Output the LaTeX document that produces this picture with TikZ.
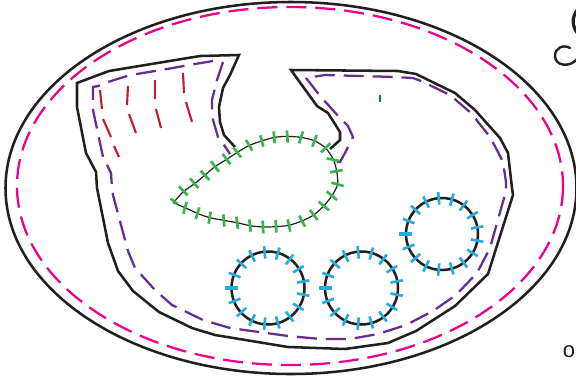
\documentclass[tikz,border=0pt]{standalone}
\usepackage{fontspec}
\setmainfont{Liberation Sans}
\definecolor{magentaP}{HTML}{EC008C}
\definecolor{purpleP}{HTML}{662D91}
\definecolor{redP}{HTML}{BE1E2D}
\definecolor{greenP}{HTML}{39B54A}
\definecolor{cyanP}{HTML}{27AAE1}
\definecolor{blueP}{HTML}{0072BC}
\definecolor{inkP}{HTML}{231F20}
\tikzset{x=0.75pt,y=-0.75pt,
 outline/.style={draw=inkP,line width=1.9pt,line join=miter},
 thinline/.style={draw=inkP,line width=0.9pt},
 pinkdash/.style={draw=magentaP,line width=1.7pt,dash pattern=on 15pt off 6.75pt},
 purpledash/.style={draw=purpleP,line width=1.7pt,dash pattern=on 15pt off 6.75pt},
 redtick/.style={draw=redP,line width=1.6pt},
 greentick/.style={draw=greenP,line width=2pt},
 cyantick/.style={draw=cyanP,line width=2pt},
 label/.style={inner sep=0pt,text=inkP,font=\fontsize{16.5}{16.5}\selectfont}}
\newcommand{\stitchring}[3]{%
 \draw[outline] (#1,#2) circle (#3);
 \foreach \k in {1,...,16}{\pgfmathsetmacro{\aa}{180+\k*21.18}
  \draw[cyantick] (#1,#2) ++(\aa:29.5) -- ++(\aa:12.5);}
 \draw[cyantick,line width=3.7pt] (#1-43,#2) -- (#1-30,#2);}
\begin{document}
\begin{tikzpicture}
\useasboundingbox (0,0) rectangle (576,376);
\fill[white] (0,0) rectangle (576,376);
\draw[outline] (291,188) ellipse (285.5 and 186);
\draw[pinkdash] (290,186) ellipse (273 and 179);
\draw[outline] (235,147) -- (224,135) -- (220,122) -- (219,107) -- (223,88) -- (230,75) -- (239,55) -- (200,56) -- (109,71) -- (77,83) -- (77,107) -- (86,153) -- (96,172) -- (97,188) -- (108,243) -- (118,271) -- (133,291) -- (159,312) -- (192,328) -- (215,335) -- (288,347) -- (345,349) -- (388,343) -- (416,331) -- (455,306) -- (488,274) -- (513,195) -- (512,188) -- (508,153) -- (500,138) -- (475,110) -- (455,93) -- (416,74) -- (398,71) -- (291,70) -- (317,106) -- (328,113) -- (340,132) -- (340,140) -- (330,149);
\draw[purpledash] (223,62) -- (217,80) -- (212,100) -- (212,107) -- (213,120) -- (218,137) -- (224,145) -- (230,154);
\draw[purpledash] (213,61) -- (195,64) -- (167,69) -- (137,74) -- (127,76) -- (108,82) -- (98,86) -- (93,87) -- (93,100) -- (93,110) -- (103,157) -- (108,167) -- (111,173) -- (112,188) -- (113,195) -- (128,251) -- (135,268) -- (155,290) -- (172,305) -- (203,320) -- (230,328) -- (288,336) -- (321,339) -- (350,339) -- (378,334) -- (406,325) -- (433,311) -- (456,295) -- (477,273) -- (490,248) -- (506,191) -- (506,182) -- (503,162) -- (498,152) -- (490,137) -- (471,113) -- (450,95) -- (421,81) -- (413,78) -- (395,77) -- (325,75) -- (306,78) -- (321,97) -- (340,118) -- (348,126) -- (353,137) -- (350,143) -- (345,153) -- (340,162) -- (336,162);
\draw[redtick] (100,90) -- (102,109);
\draw[redtick] (103,119) -- (111,137);
\draw[redtick] (114,146) -- (119,157);
\draw[redtick] (128,86) -- (127,105);
\draw[redtick] (129,114) -- (136,133);
\draw[redtick] (155,80) -- (155,99);
\draw[redtick] (156,109) -- (161,128);
\draw[redtick] (183,73) -- (184,93);
\draw[redtick] (186,102) -- (192,122);
\draw[blueP,line width=1.5pt] (380,95) -- (380,102);
\begin{scope}[shift={(160,120)},x=0.25pt,y=-0.25pt]
\draw[thinline,line join=round] plot[smooth,tension=0.4] coordinates {(40,248) (70,215) (105,190) (135,165) (165,140) (200,118) (232,97) (268,76) (305,63) (343,52) (382,49) (423,52) (463,62) (497,84) (520,118) (530,153) (533,193) (516,227) (491,258) (461,285) (426,303) (387,316) (348,320) (309,321) (270,317) (231,308) (191,301) (149,293) (112,280) (75,263) (40,248)};
\foreach \ax/\ay/\bx/\by in {32/236/53/252,57/199/83/226,90/175/115/204,122/152/148/180,153/124/177/155,188/102/211/133,220/82/243/112,258/60/277/92,301/46/310/80,341/34/344/70,381/31/383/68,429/34/417/70,470/45/457/80,511/70/483/97,500/115/538/123,510/157/548/150,514/188/551/198,500/214/531/240,476/245/507/271,450/270/473/300,418/287/435/320,383/298/391/335,347/300/349/338,308/302/310/340,268/298/272/335,229/290/234/327,190/283/193/320,152/275/146/311,118/262/107/297,80/246/70/281}{
 \draw[greentick] (\ax,\ay) -- (\bx,\by);}
\end{scope}
\stitchring{268}{288}{36.5}
\stitchring{361.5}{288}{36.5}
\stitchring{442}{234}{36}
\node[label,anchor=base west] (oletter) at (562.5,357) {o};
\draw[inkP,line width=1.8pt,line cap=round] (570,48) .. controls (563,44) and (555,48) .. (555,56) .. controls (555,66) and (570,68) .. (577,59);
\draw[inkP,line width=2.4pt] (578,9) .. controls (571,18) and (572,26) .. (578,34);
\end{tikzpicture}
\end{document}
